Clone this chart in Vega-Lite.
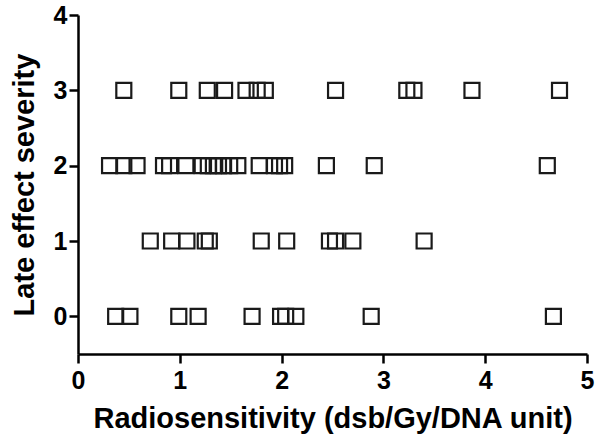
{
  "$schema": "https://vega.github.io/schema/vega-lite/v6.json",
  "width": 509,
  "height": 339,
  "autosize": "none",
  "padding": {"left": 78, "top": 15, "right": 13, "bottom": 90},
  "background": "white",
  "config": {
    "view": {"stroke": null},
    "font": "Liberation Sans",
    "axis": {
      "grid": false,
      "domainColor": "#000000",
      "domainWidth": 2.5,
      "tickColor": "#000000",
      "tickWidth": 2.5,
      "tickSize": 9,
      "labelFont": "Liberation Sans",
      "labelFontWeight": "bold",
      "labelFontSize": 25,
      "labelColor": "#000000",
      "titleFont": "Liberation Sans",
      "titleFontWeight": "bold",
      "titleFontSize": 29,
      "titleColor": "#000000"
    }
  },
  "data": {
    "values": [
      {"radiosensitivity": 0.45, "severity": 3},
      {"radiosensitivity": 0.99, "severity": 3},
      {"radiosensitivity": 1.27, "severity": 3},
      {"radiosensitivity": 1.44, "severity": 3},
      {"radiosensitivity": 1.65, "severity": 3},
      {"radiosensitivity": 1.76, "severity": 3},
      {"radiosensitivity": 1.84, "severity": 3},
      {"radiosensitivity": 2.53, "severity": 3},
      {"radiosensitivity": 3.23, "severity": 3},
      {"radiosensitivity": 3.30, "severity": 3},
      {"radiosensitivity": 3.87, "severity": 3},
      {"radiosensitivity": 4.73, "severity": 3},
      {"radiosensitivity": 0.31, "severity": 2},
      {"radiosensitivity": 0.45, "severity": 2},
      {"radiosensitivity": 0.58, "severity": 2},
      {"radiosensitivity": 0.84, "severity": 2},
      {"radiosensitivity": 0.90, "severity": 2},
      {"radiosensitivity": 1.06, "severity": 2},
      {"radiosensitivity": 1.22, "severity": 2},
      {"radiosensitivity": 1.28, "severity": 2},
      {"radiosensitivity": 1.33, "severity": 2},
      {"radiosensitivity": 1.38, "severity": 2},
      {"radiosensitivity": 1.43, "severity": 2},
      {"radiosensitivity": 1.49, "severity": 2},
      {"radiosensitivity": 1.57, "severity": 2},
      {"radiosensitivity": 1.78, "severity": 2},
      {"radiosensitivity": 1.93, "severity": 2},
      {"radiosensitivity": 1.98, "severity": 2},
      {"radiosensitivity": 2.03, "severity": 2},
      {"radiosensitivity": 2.44, "severity": 2},
      {"radiosensitivity": 2.91, "severity": 2},
      {"radiosensitivity": 4.61, "severity": 2},
      {"radiosensitivity": 0.71, "severity": 1},
      {"radiosensitivity": 0.92, "severity": 1},
      {"radiosensitivity": 1.07, "severity": 1},
      {"radiosensitivity": 1.25, "severity": 1},
      {"radiosensitivity": 1.29, "severity": 1},
      {"radiosensitivity": 1.80, "severity": 1},
      {"radiosensitivity": 2.05, "severity": 1},
      {"radiosensitivity": 2.47, "severity": 1},
      {"radiosensitivity": 2.53, "severity": 1},
      {"radiosensitivity": 2.70, "severity": 1},
      {"radiosensitivity": 3.40, "severity": 1},
      {"radiosensitivity": 0.37, "severity": 0},
      {"radiosensitivity": 0.51, "severity": 0},
      {"radiosensitivity": 0.99, "severity": 0},
      {"radiosensitivity": 1.18, "severity": 0},
      {"radiosensitivity": 1.71, "severity": 0},
      {"radiosensitivity": 1.99, "severity": 0},
      {"radiosensitivity": 2.04, "severity": 0},
      {"radiosensitivity": 2.14, "severity": 0},
      {"radiosensitivity": 2.88, "severity": 0},
      {"radiosensitivity": 4.67, "severity": 0}
    ]
  },
  "mark": {"type": "point", "shape": "square", "size": 225, "filled": false, "stroke": "#1a1a1a", "strokeWidth": 2.2, "opacity": 1},
  "encoding": {
    "x": {
      "field": "radiosensitivity",
      "type": "quantitative",
      "scale": {"domain": [0, 5], "nice": false, "zero": false},
      "axis": {"values": [0, 1, 2, 3, 4, 5], "format": "d", "labelPadding": 5, "titlePadding": 11, "title": "Radiosensitivity (dsb/Gy/DNA unit)", "labelFlush": false}
    },
    "y": {
      "field": "severity",
      "type": "quantitative",
      "scale": {"domain": [-0.5, 4], "nice": false, "zero": false},
      "axis": {"values": [0, 1, 2, 3, 4], "format": "d", "labelPadding": 2, "titlePadding": 14, "title": "Late effect severity", "labelFlush": false}
    }
  }
}
